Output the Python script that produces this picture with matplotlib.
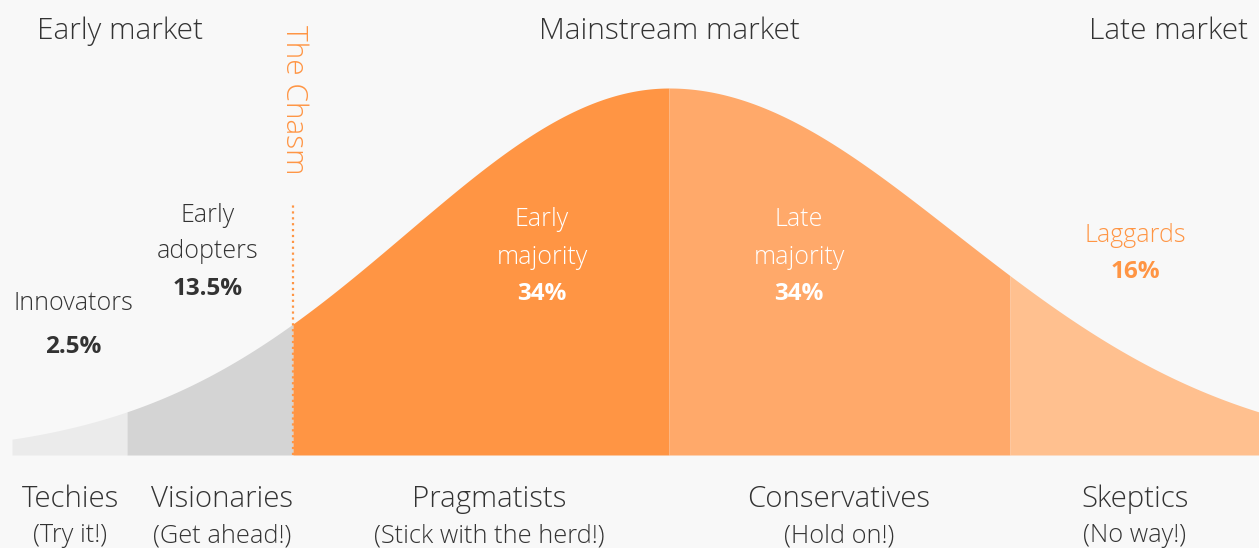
import matplotlib.pyplot as plt
import numpy as np

plt.rcParams['font.family'] = ['Open Sans', 'DejaVu Sans']

# segment edges (pixel-like units, relative to the peak of the curve)
edges = [-657, -542, -376, 0, 341, 590]
seg_colors = ['#ebebeb', '#d4d4d4', '#ff9544', '#ffa96a', '#ffc08f']
sd_left, sd_right = 262, 285

group_names = [['Innovators'], ['Early', 'adopters'], ['Early', 'majority'],
               ['Late', 'majority'], ['Laggards']]
group_shares = ['2.5%', '13.5%', '34%', '34%', '16%']
personas = ['Techies', 'Visionaries', 'Pragmatists', 'Conservatives', 'Skeptics']
mottos = ['(Try it!)', '(Get ahead!)', '(Stick with the herd!)', '(Hold on!)', '(No way!)']
markets = ['Early market', 'Mainstream market', 'Late market']

peak = 367
bg = '#f8f8f8'
dark = '#333333'
orange = '#ff9544'

fig = plt.figure(figsize=(12.59, 5.48), dpi=100, facecolor=bg)
ax = fig.add_axes([0, 0, 1, 1])
ax.set_facecolor(bg)
ax.set_xlim(-669, 590)
ax.set_ylim(93, -455)  # y measured from baseline, flipped
ax.axis('off')


def curve(x):
    s = np.where(x < 0, sd_left, sd_right)
    return peak * np.exp(-0.5 * (x / s) ** 2)


for i in range(len(seg_colors)):
    xs = np.linspace(edges[i], edges[i + 1], 200)
    ax.fill_between(xs, 0, -curve(xs), color=seg_colors[i], linewidth=0)

# chasm
cx = edges[2]
ax.plot([cx, cx], [0, -252], color=orange, linestyle=':', linewidth=1.6)
ax.text(cx + 1, -355, 'The Chasm', rotation=-90, color=orange, fontsize=21.5,
        fontweight='light', ha='center', va='center')

# market titles
ax.text(-549, -424, markets[0], fontsize=21.5, color=dark, fontweight='light',
        ha='center', va='center')
ax.text(0, -424, markets[1], fontsize=21.5, color=dark, fontweight='light',
        ha='center', va='center')
ax.text(579, -424, markets[2], fontsize=21.5, color=dark, fontweight='light',
        ha='right', va='center')

# group labels: x centre, y of first line, y of share
label_x = [-596, -461, -127, 130, 466]
label_y0 = [-152, -240, -235, -235, -219]
share_y = [-108, -166, -161, -161, -183]
name_colors = [dark, dark, 'white', 'white', orange]
for x, y0, ys, lines, share, c in zip(label_x, label_y0, share_y, group_names,
                                      group_shares, name_colors):
    for k, line in enumerate(lines):
        ax.text(x, y0 + 37 * k, line, fontsize=18, color=c, fontweight='light',
                ha='center', va='center')
    ax.text(x, ys, share, fontsize=17.5, color=c, fontweight='bold',
            ha='center', va='center')

# bottom persona labels
persona_x = [-599, -447, -180, 170, 466]
for x, p, m in zip(persona_x, personas, mottos):
    ax.text(x, 44, p, fontsize=21.2, color=dark, fontweight='light', ha='center', va='center')
    ax.text(x, 81, m, fontsize=18.3, color=dark, fontweight='light', ha='center', va='center')

fig.savefig('out.png', dpi=100, facecolor=bg)
